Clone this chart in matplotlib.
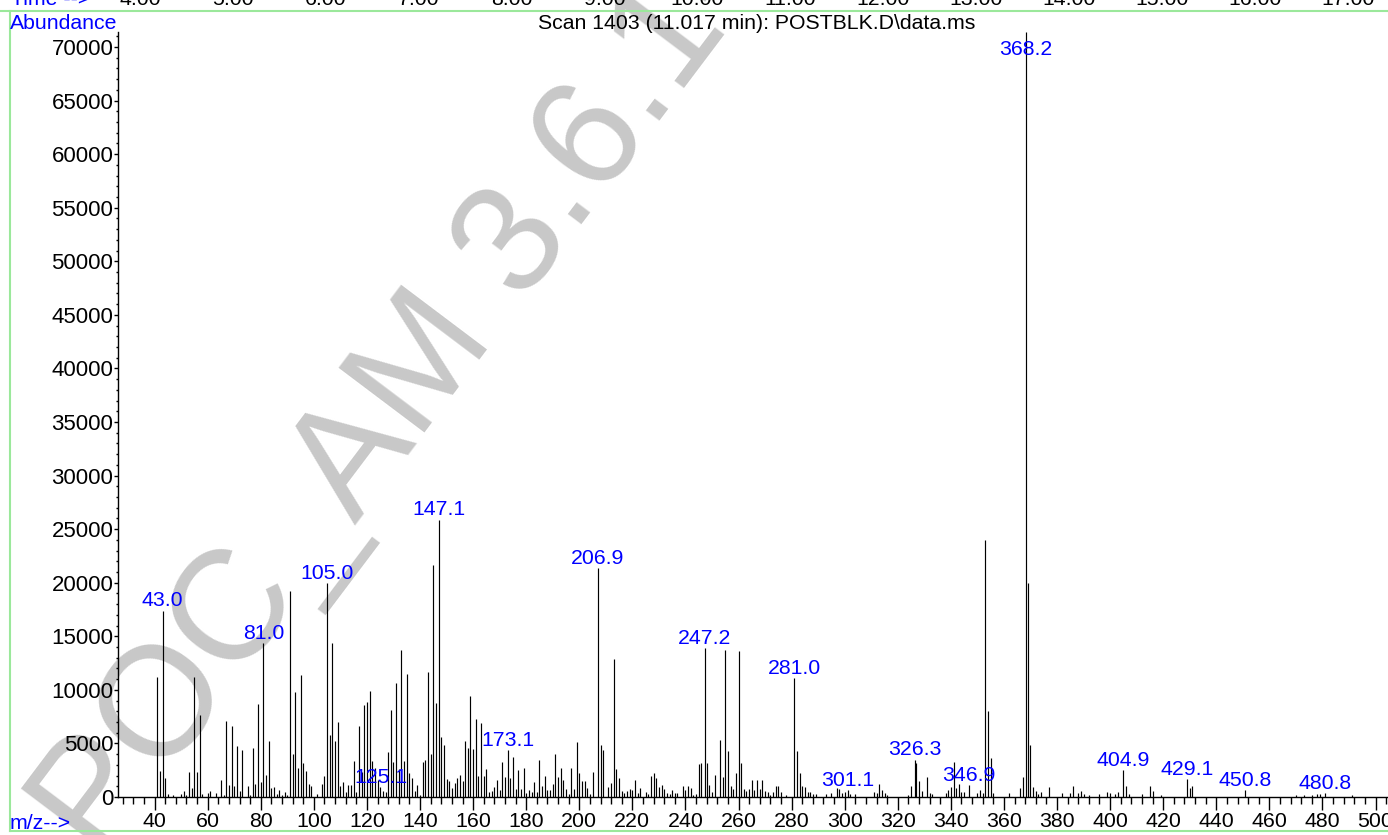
import matplotlib
matplotlib.use("Agg")
import matplotlib.pyplot as plt
from matplotlib.ticker import MultipleLocator, FuncFormatter
from matplotlib.lines import Line2D

plt.rcParams['font.family'] = ['Liberation Sans', 'DejaVu Sans']

# ---- spectrum data: m/z and abundance ----
mz = [41, 42, 43.0, 44, 45, 47, 50, 51, 52, 53, 54, 55, 56, 57, 58, 60, 61, 63, 65, 66,
      67, 68, 69, 70, 71, 72, 73, 75, 76, 77, 78, 79, 80, 81.0, 82, 83, 84, 85, 86, 87,
      88, 89, 90, 91, 92, 93, 94, 95, 96, 97, 98, 99, 101, 103, 104, 105.0, 106, 107, 108, 109,
      110, 111, 112, 113, 114, 115, 116, 117, 118, 119, 120, 121, 122, 123, 124, 125.1, 126, 127, 128, 129,
      130, 131, 132, 133, 134, 135, 136, 137, 138, 139, 140, 141, 142, 143, 144, 145, 146, 147.1, 148, 149,
      150, 151, 152, 153, 154, 155, 156, 157, 158, 159, 160, 161, 162, 163, 164, 165, 166, 167, 168, 169,
      170, 171, 172, 173.1, 174, 175, 176, 177, 178, 179, 180, 181, 182, 183, 184, 185, 186, 187, 188, 189,
      190, 191, 192, 193, 194, 195, 196, 197, 198, 199, 200, 201, 202, 203, 204, 205, 206.9, 208, 209, 211,
      212, 213, 214, 215, 216, 217, 218, 219, 220, 221, 222, 223, 225, 226, 227, 228, 229, 230, 231, 232,
      233, 234, 235, 236, 237, 239, 240, 241, 242, 243, 244, 245, 246, 247.2, 248, 249, 250, 251, 253, 254,
      255, 256, 257, 258, 259, 260, 261, 262, 263, 264, 265, 266, 267, 268, 269, 270, 271, 272, 273, 274,
      275, 276, 278, 281.0, 282, 283, 284, 285, 286, 287, 288, 289, 293, 295, 297, 298, 299, 300, 301.1, 302,
      304, 311, 312, 313, 314, 315, 316, 324, 325, 326.3, 327, 328, 329, 331, 332, 333, 338, 339, 340, 341,
      342, 343, 344, 345, 346.9, 350, 351, 352, 353, 354, 355, 356, 362, 366, 367, 368.2, 369, 370, 371, 372,
      373, 374, 377, 382, 385, 386, 388, 389, 390, 392, 396, 399, 400, 402, 403, 404.9, 406, 407, 412, 415,
      416, 419, 429.1, 430, 431, 450.8, 470, 473, 476, 478, 479, 480.8, 491]

abundance = [11200, 2450, 17400, 1800, 250, 200, 300, 600, 200, 2350, 850, 11200, 2300, 7700, 300, 350, 550, 350, 1550, 200,
             7100, 1100, 6650, 1000, 4800, 600, 4400, 1000, 200, 4600, 1250, 8700, 1400, 14400, 2100, 5200, 800, 900, 300, 650,
             200, 500, 200, 19200, 4000, 9800, 2700, 11400, 3200, 2400, 1250, 1000, 300, 1250, 1950, 20000, 5800, 14400, 5200, 7000,
             1000, 1400, 500, 1150, 1080, 3400, 460, 6650, 2300, 8550, 8900, 9900, 3400, 2700, 1600, 900, 600, 460, 4200, 8100,
             3300, 10600, 2650, 13700, 3400, 11500, 2200, 1800, 600, 1100, 200, 3300, 3450, 11700, 4000, 21700, 8800, 25900, 5600, 4900,
             1650, 1500, 870, 1270, 1800, 2080, 1500, 5200, 4600, 9400, 4450, 7300, 2000, 6900, 2000, 2600, 460, 600, 930, 1550,
             700, 3300, 1900, 4350, 1750, 3750, 770, 2500, 770, 2700, 400, 650, 460, 1400, 460, 3500, 1000, 1950, 650, 700,
             1200, 4000, 1900, 2700, 1550, 770, 300, 2700, 770, 5100, 2200, 1500, 1500, 800, 250, 2300, 21400, 4900, 4400, 900,
             1270, 12900, 2650, 1800, 600, 370, 560, 780, 650, 1600, 370, 840, 430, 300, 1930, 2240, 1780, 900, 1150, 750,
             370, 280, 650, 370, 370, 990, 620, 1060, 870, 200, 300, 3050, 3150, 13900, 3150, 1150, 500, 2100, 5300, 1900,
             13700, 4250, 990, 780, 2270, 13650, 3200, 780, 590, 720, 1620, 650, 1600, 780, 1600, 560, 500, 200, 470, 990,
             990, 470, 150, 11100, 4250, 2200, 1050, 900, 500, 500, 300, 300, 300, 400, 800, 750, 350, 500, 650, 300,
             300, 500, 350, 1250, 650, 350, 200, 200, 1050, 3500, 3200, 1450, 600, 1850, 350, 300, 350, 650, 950, 3300,
             800, 1250, 500, 500, 1100, 350, 700, 350, 24000, 8050, 3640, 350, 350, 800, 1850, 71400, 20000, 4850, 900, 600,
             280, 470, 970, 350, 350, 1060, 350, 600, 250, 180, 280, 470, 350, 250, 500, 2550, 1000, 280, 300, 1030,
             560, 160, 1650, 850, 1060, 620, 220, 220, 160, 300, 300, 370, 220]

# annotated peaks (m/z labels drawn above the line tops)
labelled_mz = [43.0, 81.0, 105.0, 125.1, 147.1, 173.1, 206.9, 247.2, 281.0, 301.1,
               326.3, 346.9, 368.2, 404.9, 429.1, 450.8, 480.8]

# retention-time axis of the chromatogram strip above
time_ticks = [4, 5, 6, 7, 8, 9, 10, 11, 12, 13, 14, 15, 16, 17]

W, H = 1388, 835
fig = plt.figure(figsize=(W / 100, H / 100), dpi=100)
fig.patch.set_facecolor('white')


def fx(px):
    return px / W


def fy(py):
    return 1 - py / H


FS = 15.3        # header / caption / peak-label size
FS_X = 15.4      # m/z tick labels
FS_Y = 16.0      # abundance tick labels
BLUE = '#0000ff'
GREEN = '#9be89b'

ax = fig.add_axes([fx(118), fy(797), fx(1388) - fx(118), fy(32) - fy(797)])
ax.set_facecolor('none')

ymax = max(abundance)
ax.set_xlim(26.2, 504.7)
ax.set_ylim(0, ymax)

ax.vlines(mz, 0, abundance, colors='black', linewidth=0.85, zorder=2)

cap = 68860
for m in labelled_mz:
    v = abundance[mz.index(m)]
    ax.annotate(f"{m:.1f}", xy=(m, min(v, cap)), xytext=(0, 3),
                textcoords='offset points', ha='center', va='baseline',
                color=BLUE, fontsize=FS, zorder=4, annotation_clip=False)

for side in ('top', 'right'):
    ax.spines[side].set_visible(False)
for side in ('left', 'bottom'):
    ax.spines[side].set_linewidth(1.0)

ax.xaxis.set_major_locator(MultipleLocator(20))
ax.xaxis.set_minor_locator(MultipleLocator(4))
ax.yaxis.set_major_locator(MultipleLocator(5000))
ax.yaxis.set_minor_locator(MultipleLocator(1000))
ax.yaxis.set_major_formatter(FuncFormatter(lambda v, p: f"{int(v)}"))
ax.tick_params(axis='x', which='major', length=9, width=1, direction='out', pad=1.5, labelsize=FS_X)
ax.tick_params(axis='x', which='minor', length=5, width=1, direction='out')
ax.tick_params(axis='y', which='major', length=3, width=1, direction='out', pad=0.3, labelsize=FS_Y)
ax.tick_params(axis='y', which='minor', length=1.8, width=1, direction='out')

# header and axis captions
fig.text(fx(10), fy(29), "Abundance", color=BLUE, fontsize=FS, ha='left', va='baseline')
fig.text(fx(757), fy(29), "Scan 1403 (11.017 min): POSTBLK.D\\data.ms", color='black',
         fontsize=FS, ha='center', va='baseline')
fig.text(fx(10), fy(829), "m/z-->", color=BLUE, fontsize=FS, ha='left', va='baseline')

# chromatogram time strip, cut off at the top edge
fig.text(fx(11), fy(5), "Time -->", color=BLUE, fontsize=FS, ha='left', va='baseline')
for t in time_ticks:
    fig.text(fx(140 + (t - 4) * 92.9), fy(5), f"{t:.2f}", color='black',
             fontsize=FS, ha='center', va='baseline')

# green frame
for (x0, y0, x1, y1) in [(0, 11, W, 11), (10, 11, 10, 831), (10, 831, W, 831)]:
    fig.add_artist(Line2D([fx(x0), fx(x1)], [fy(y0), fy(y1)], color=GREEN,
                          linewidth=1.5, transform=fig.transFigure, zorder=1))

# watermark
fig.text(fx(398), fy(401), "POC_AM 3.6.1-", rotation=53, rotation_mode='anchor',
         ha='center', va='center', fontsize=112, color='#c8c8c8', zorder=-1)

fig.savefig("out.png", dpi=100, facecolor='white')
